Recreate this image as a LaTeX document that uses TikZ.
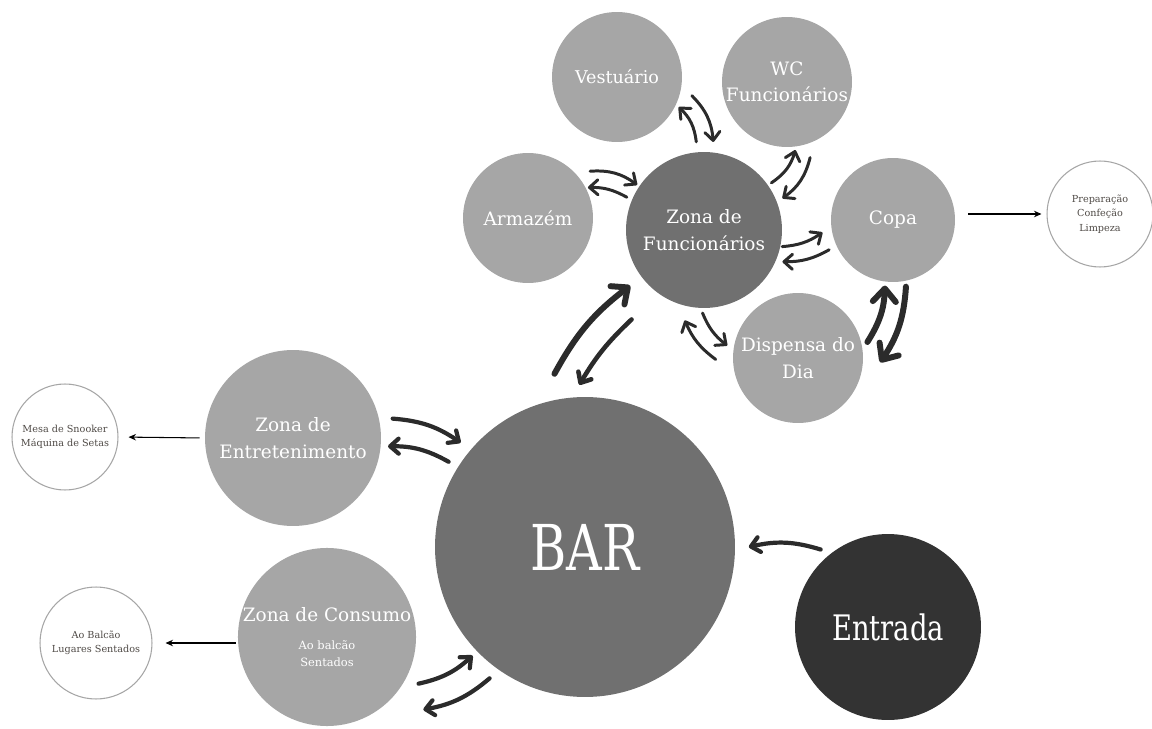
\documentclass[tikz,border=0pt]{standalone}
\usepackage{fontspec}
\setmainfont{DejaVu Serif}
\newfontfamily\titlefont[FakeStretch=0.78]{DejaVu Serif}
\usetikzlibrary{arrows.meta, calc}
\definecolor{zonegray}{HTML}{A6A6A6}
\definecolor{hubgray}{HTML}{707070}
\definecolor{doorgray}{HTML}{333333}
\definecolor{arrowink}{HTML}{2B2B2B}
\definecolor{noteink}{HTML}{4F4A46}

\begin{document}
\begin{tikzpicture}[x=0.02cm, y=-0.02cm,
    zone/.style={circle, fill=zonegray, text=white, inner sep=0pt, align=center, font=\fontsize{10.5}{15}\selectfont},
    hub/.style={zone, fill=hubgray},
    note/.style={circle, draw=zonegray, line width=0.6pt, fill=white, text=noteink, inner sep=0pt, align=center, font=\fontsize{5.5}{8.2}\selectfont},
    arr/.style={arrowink, line width=1.7pt, line cap=round, -{Straight Barb[length=1.7mm,width=3mm,round]}},
    arrb/.style={arr, line width=3.4pt, -{Straight Barb[length=2.6mm,width=4.6mm,round]}},
    link/.style={black, line width=0.6pt, -{Stealth[length=1.5mm,width=1.3mm]}}]

    \useasboundingbox (0,0) rectangle (1152,729);

    % Nodes
    \node at (585,547) (bar) [hub, minimum size=6cm, font=\titlefont\fontsize{36}{40}\selectfont] {BAR};
    \node at (888,627) (door) [zone, fill=doorgray, minimum size=3.72cm, font=\titlefont\fontsize{20}{22}\selectfont] {Entrada};
    \node at (704,230) (staff) [hub, minimum size=3.12cm] {Zona de\\Funcionários};
    \node at (528,218) (store) [zone, minimum size=2.6cm] {Armazém};
    \node at (617,77) (locker) [zone, minimum size=2.6cm, font=\fontsize{10}{15}\selectfont] {Vestuário};
    \node at (787,82) (wc) [zone, minimum size=2.6cm] {WC\\Funcionários};
    \node at (893,220) (copa) [zone, minimum size=2.48cm] {Copa};
    \node at (798,358) (pantry) [zone, minimum size=2.6cm] {Dispensa do\\Dia};
    \node at (293,438) (fun) [zone, minimum size=3.52cm] {Zona de\\Entretenimento};
    \node at (327,637) (drink) [zone, minimum size=3.52cm, font=\fontsize{10.5}{10}\selectfont] {Zona de Consumo\\[6pt]{\fontsize{6.5}{10}\selectfont Ao balcão}\\{\fontsize{6.5}{10}\selectfont Sentados}};
    \node at (1100,214) (copanote) [note, minimum size=2.12cm] {Preparação\\Confeção\\Limpeza};
    \node at (65,437) (funnote) [note, minimum size=2.12cm] {Mesa de Snooker\\Máquina de Setas};
    \node at (96,643) (drinknote) [note, minimum size=2.24cm] {Ao Balcão\\Lugares Sentados};

    % Arrows around the staff zone
    \draw[arr] ($(store)!1.19!(store.37)$) to[bend left=20] ($(staff)!1.03!(staff.146)$);
    \draw[arr] ($(staff)!1.07!(staff.157)$) to[bend right=15] ($(store)!1.03!(store.27)$);
    \draw[arr] ($(staff)!1.13!(staff.95)$) to[bend right=20] ($(locker)!1.05!(locker.-26)$);
    \draw[arr] ($(locker)!1.18!(locker.-14)$) to[bend left=20] ($(staff)!1.13!(staff.84)$);
    \draw[arr] ($(staff)!1.05!(staff.35)$) to[bend right=20] ($(wc)!1.05!(wc.-83)$);
    \draw[arr] ($(wc)!1.21!(wc.-73)$) to[bend left=20] ($(staff)!1.08!(staff.22)$);
    \draw[arr] ($(staff)!1.02!(staff.-12)$) to[bend right=15] ($(copa)!1.15!(copa.190)$);
    \draw[arr] ($(copa)!1.13!(copa.205)$) to[bend left=15] ($(staff)!1.08!(staff.-22)$);
    \draw[arr] ($(staff)!1.06!(staff.-91)$) to[bend right=15] ($(pantry)!1.10!(pantry.170)$);
    \draw[arr] ($(pantry)!1.26!(pantry.181)$) to[bend left=15] ($(staff)!1.18!(staff.-102)$);

    % Copa and pantry
    \draw[arrb] ($(pantry)!1.09!(pantry.13)$) to[bend right=15] ($(copa)!1.06!(copa.-97)$);
    \draw[arrb] ($(copa)!1.09!(copa.-79)$) to[bend left=15] ($(pantry)!1.26!(pantry.-3)$);

    % Arrows around the bar
    \draw[arrb] ($(bar)!1.17!(bar.100)$) to[bend left=12] ($(staff)!1.18!(staff.217)$);
    \draw[arr, line width=2.6pt] ($(staff)!1.47!(staff.231)$) to[bend right=8] ($(bar)!1.08!(bar.92)$);
    \draw[arr, line width=2.4pt] ($(fun)!1.15!(fun.11)$) to[bend left=15] ($(bar)!1.08!(bar.140)$);
    \draw[arr, line width=2.4pt] ($(bar)!1.07!(bar.148)$) to[bend right=15] ($(fun)!1.08!(fun.-5)$);
    \draw[arr, line width=2.4pt] ($(drink)!1.15!(drink.-27)$) to[bend right=15] ($(bar)!1.04!(bar.224)$);
    \draw[arr, line width=2.4pt] ($(bar)!1.08!(bar.234)$) to[bend left=15] ($(drink)!1.35!(drink.-37)$);
    \draw[arr, line width=2.4pt] ($(door)!1.10!(door.131)$) to[bend right=15] ($(bar)!1.09!(bar.0)$);

    % Links to the notes
    \draw[link, shorten <=2.6mm, shorten >=1mm] (copa.east |- copanote) -- (copanote.west);
    \draw[link, shorten <=1mm, shorten >=2mm] (fun.west) -- (funnote.east);
    \draw[link, shorten <=0.4mm, shorten >=2.6mm] (drink.west |- drinknote) -- (drinknote.east);

\end{tikzpicture}
\end{document}
